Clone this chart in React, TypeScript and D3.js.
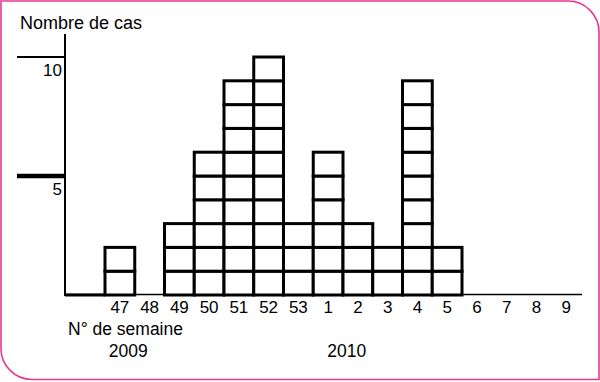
import React from "react";
import * as d3 from "d3";

const weeks = ["47", "48", "49", "50", "51", "52", "53", "1", "2", "3", "4", "5", "6", "7", "8", "9"];
const cases = [2, 0, 3, 6, 9, 10, 3, 6, 3, 2, 9, 2, 0, 0, 0, 0];
const yTicks = [5, 10];
const years = [
  { label: "2009", week: "48" },
  { label: "2010", week: "1" },
];

const W = 600;
const H = 382;

export default function App() {
  const x = d3.scaleBand<string>().domain(weeks).range([105, 581]).padding(0);
  const y = d3.scaleLinear().domain([0, 10]).range([295, 57]);
  const bw = x.bandwidth();
  const font = "'Liberation Sans', Arial, sans-serif";
  const pink = "#e8378c";
  const r = 31;
  const framePath = `M1,1 H${W - 1 - r} A${r},${r} 0 0 1 ${W - 1},${1 + r} V${H - 2.5} H${1 + r} A${r},${r} 0 0 1 1,${H - 2.5 - r} Z`;

  const cells: { w: string; i: number }[] = [];
  weeks.forEach((w, k) => {
    for (let i = 0; i < cases[k]; i++) cells.push({ w, i });
  });

  return (
    <svg width={W} height={H} style={{ position: "absolute", left: 0, top: 0 }} fontFamily={font}>
      <rect x={0} y={0} width={W} height={H} fill="white" />
      <path d={framePath} fill="white" stroke={pink} strokeWidth={1.6} />
      <text x={20} y={29} fontSize={18} fill="#000">Nombre de cas</text>
      {/* y axis */}
      <line x1={65} x2={65} y1={34} y2={y(0) + 1} stroke="#000" strokeWidth={2} />
      {yTicks.map((t) => (
        <g key={t}>
          <line x1={17} x2={65} y1={y(t)} y2={y(t)} stroke="#000" strokeWidth={t === 5 ? 4.5 : 2} />
          <text x={62} y={y(t) + 19} fontSize={17} textAnchor="end">{t}</text>
        </g>
      ))}
      {/* x axis */}
      <line x1={65} x2={582} y1={y(0) - 0.5} y2={y(0) - 0.5} stroke="#000" strokeWidth={1.5} />
      <line x1={65} x2={x(weeks[0])!} y1={y(0)} y2={y(0)} stroke="#000" strokeWidth={3} />
      {cells.map((c, idx) => (
        <rect
          key={idx}
          x={x(c.w)!}
          y={y(c.i + 1)}
          width={bw}
          height={y(c.i) - y(c.i + 1)}
          fill="white"
          stroke="#000"
          strokeWidth={3}
        />
      ))}
      {weeks.map((w) => (
        <text key={w} x={x(w)! + bw / 2} y={313} fontSize={17} textAnchor="middle">{w}</text>
      ))}
      <text x={68} y={335} fontSize={17.5}>N° de semaine</text>
      {years.map((yr) => (
        <text key={yr.label} x={x(yr.week)! + (yr.week === "48" ? -26 : 14)} y={357} fontSize={17.5}>{yr.label}</text>
      ))}
    </svg>
  );
}
